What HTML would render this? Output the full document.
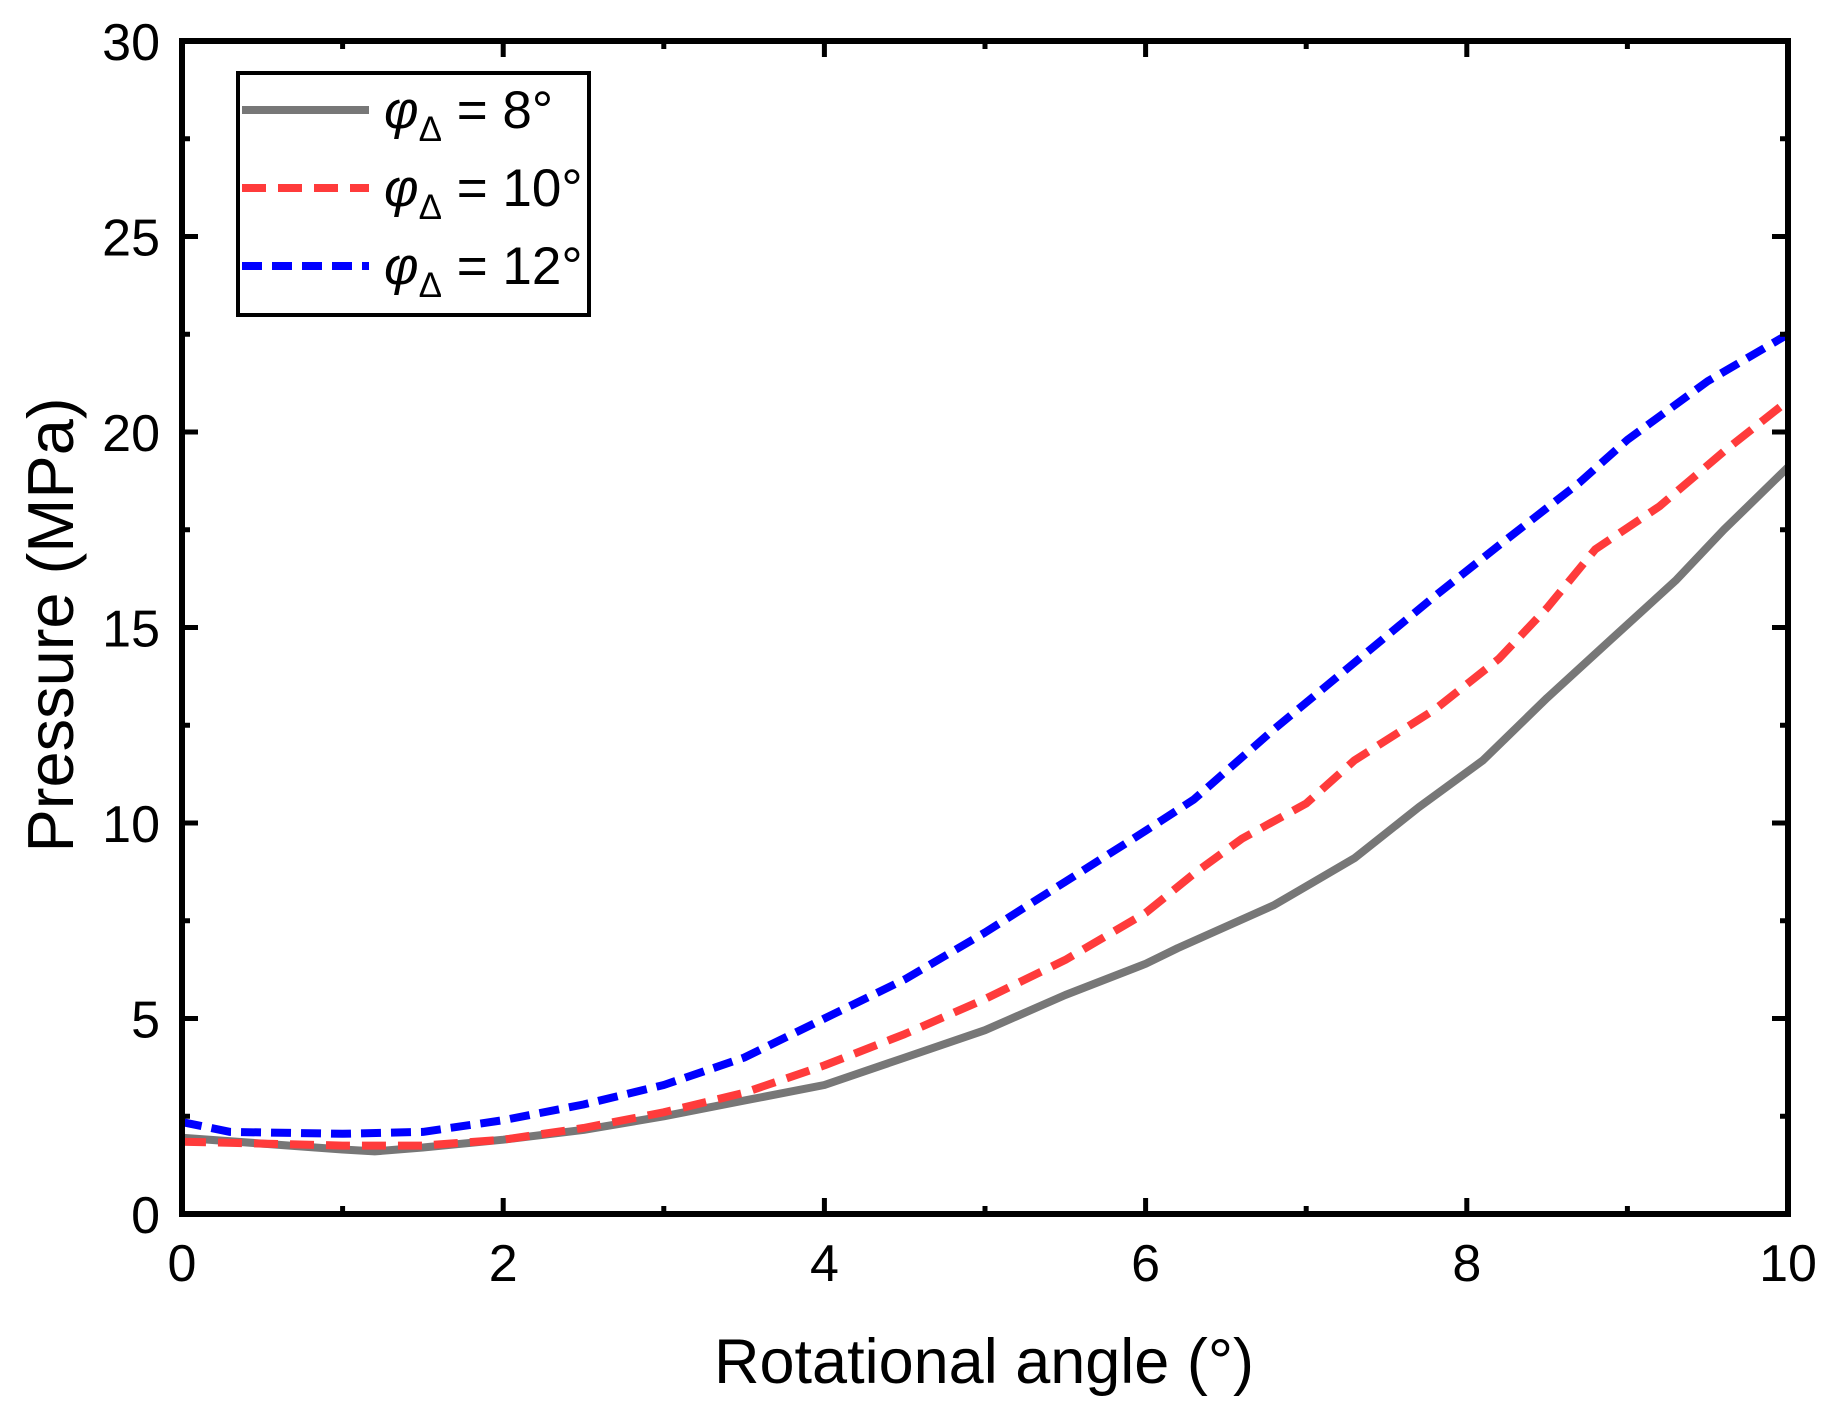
<!DOCTYPE html>
<html><head><meta charset="utf-8"><style>
html,body{margin:0;padding:0;background:#fff;}
svg{display:block;font-family:"Liberation Sans",Arial,sans-serif;}
</style></head><body>
<svg id="chart" width="1836" height="1413" viewBox="0 0 1836 1413">
<g id="series"></g>
<g id="axes"></g>
<g id="legend">
  <rect x="238" y="73" width="351" height="242" fill="#fff" stroke="#000" stroke-width="4"/>
  <g>
    <line x1="242" y1="110" x2="369" y2="110" stroke="#777" stroke-width="8"/>
    <text x="384" y="128" font-size="53"><tspan font-style="italic">φ</tspan><tspan font-size="35" dy="13">Δ</tspan><tspan dy="-13"> = 8°</tspan></text>
  </g>
  <g>
    <line x1="242" y1="188" x2="369" y2="188" stroke="#ff3b3b" stroke-width="8" stroke-dasharray="24 12"/>
    <text x="384" y="206" font-size="53"><tspan font-style="italic">φ</tspan><tspan font-size="35" dy="13">Δ</tspan><tspan dy="-13"> = 10°</tspan></text>
  </g>
  <g>
    <line x1="242" y1="266" x2="369" y2="266" stroke="#0000ff" stroke-width="8" stroke-dasharray="20 10"/>
    <text x="384" y="284" font-size="53"><tspan font-style="italic">φ</tspan><tspan font-size="35" dy="13">Δ</tspan><tspan dy="-13"> = 12°</tspan></text>
  </g>
</g>
<text x="984" y="1383" font-size="63" text-anchor="middle">Rotational angle (°)</text>
<text x="0" y="0" font-size="65" text-anchor="middle" transform="translate(73,625) rotate(-90)">Pressure (MPa)</text>
</svg>
<script>
const xTicks = [0, 2, 4, 6, 8, 10];
const yTicks = [0, 5, 10, 15, 20, 25, 30];
const xMinor = [1, 3, 5, 7, 9];
const yMinor = [2.5, 7.5, 12.5, 17.5, 22.5, 27.5];

const grayX = [0,0.5,1,1.2,1.5,2,2.5,3,3.5,4,4.5,5,5.5,6,6.2,6.8,7.3,7.7,8.1,8.5,8.9,9.3,9.6,10];
const grayY = [1.95,1.8,1.65,1.6,1.7,1.9,2.15,2.5,2.9,3.3,4.0,4.7,5.6,6.4,6.8,7.9,9.1,10.4,11.6,13.2,14.7,16.2,17.5,19.1];
const redX = [0,0.5,1,1.5,2,2.5,3,3.5,4,4.5,5,5.5,6,6.3,6.6,7,7.3,7.8,8.2,8.5,8.8,9.2,9.6,10];
const redY = [1.85,1.8,1.75,1.75,1.9,2.2,2.6,3.1,3.8,4.6,5.5,6.5,7.7,8.7,9.6,10.5,11.6,12.9,14.2,15.5,17.0,18.1,19.5,20.8];
const blueX = [0,0.3,1,1.5,2,2.5,3,3.5,4,4.5,5,5.5,6,6.3,6.8,7.3,7.8,8.2,8.7,9,9.5,10];
const blueY = [2.35,2.1,2.05,2.1,2.4,2.8,3.3,4.0,5.0,6.0,7.2,8.5,9.8,10.6,12.4,14.1,15.8,17.1,18.7,19.8,21.3,22.5];

const L = 182, R = 1788, T = 41, B = 1214;
const sx = v => L + (v - 0) / 10 * (R - L);
const sy = v => B - (v - 0) / 30 * (B - T);
const NS = "http://www.w3.org/2000/svg";
const seriesG = document.getElementById('series');
const axesG = document.getElementById('axes');

function mk(tag, attrs, parent) {
  const e = document.createElementNS(NS, tag);
  for (const k in attrs) e.setAttribute(k, attrs[k]);
  parent.appendChild(e);
  return e;
}

function drawLine(xs, ys, color, dash, name) {
  const d = xs.map((x, i) => (i ? 'L' : 'M') + sx(x).toFixed(1) + ' ' + sy(ys[i]).toFixed(1)).join(' ');
  const p = mk('path', {d: d, fill: 'none', stroke: color, 'stroke-width': 8, 'stroke-linejoin': 'round'}, seriesG);
  if (dash) p.setAttribute('stroke-dasharray', dash);
  
  
}
drawLine(grayX, grayY, '#777777', null, 'series-phi-8');
drawLine(redX, redY, '#ff3b3b', '24 12', 'series-phi-10');
drawLine(blueX, blueY, '#0000ff', '20 10', 'series-phi-12');

const frame = mk('rect', {x: L, y: T, width: R - L, height: B - T, fill: 'none', stroke: '#000', 'stroke-width': 6}, axesG);



xTicks.forEach(v => {
  const x = sx(v);
  mk('line', {x1: x, y1: B, x2: x, y2: B - 16, stroke: '#000', 'stroke-width': 5}, axesG);
  mk('line', {x1: x, y1: T, x2: x, y2: T + 16, stroke: '#000', 'stroke-width': 5}, axesG);
  const t = mk('text', {x: x, y: 1281, 'font-size': 52, 'text-anchor': 'middle'}, axesG);
  t.textContent = v;
  
  
});
xMinor.forEach(v => {
  const x = sx(v);
  mk('line', {x1: x, y1: B, x2: x, y2: B - 8, stroke: '#000', 'stroke-width': 5}, axesG);
  mk('line', {x1: x, y1: T, x2: x, y2: T + 8, stroke: '#000', 'stroke-width': 5}, axesG);
});
yTicks.forEach(v => {
  const y = sy(v);
  mk('line', {x1: L, y1: y, x2: L + 16, y2: y, stroke: '#000', 'stroke-width': 5}, axesG);
  mk('line', {x1: R, y1: y, x2: R - 16, y2: y, stroke: '#000', 'stroke-width': 5}, axesG);
  const t = mk('text', {x: 160, y: y + 19, 'font-size': 52, 'text-anchor': 'end'}, axesG);
  t.textContent = v;
  
  
});
yMinor.forEach(v => {
  const y = sy(v);
  mk('line', {x1: L, y1: y, x2: L + 8, y2: y, stroke: '#000', 'stroke-width': 5}, axesG);
  mk('line', {x1: R, y1: y, x2: R - 8, y2: y, stroke: '#000', 'stroke-width': 5}, axesG);
});
</script>
</body></html>
